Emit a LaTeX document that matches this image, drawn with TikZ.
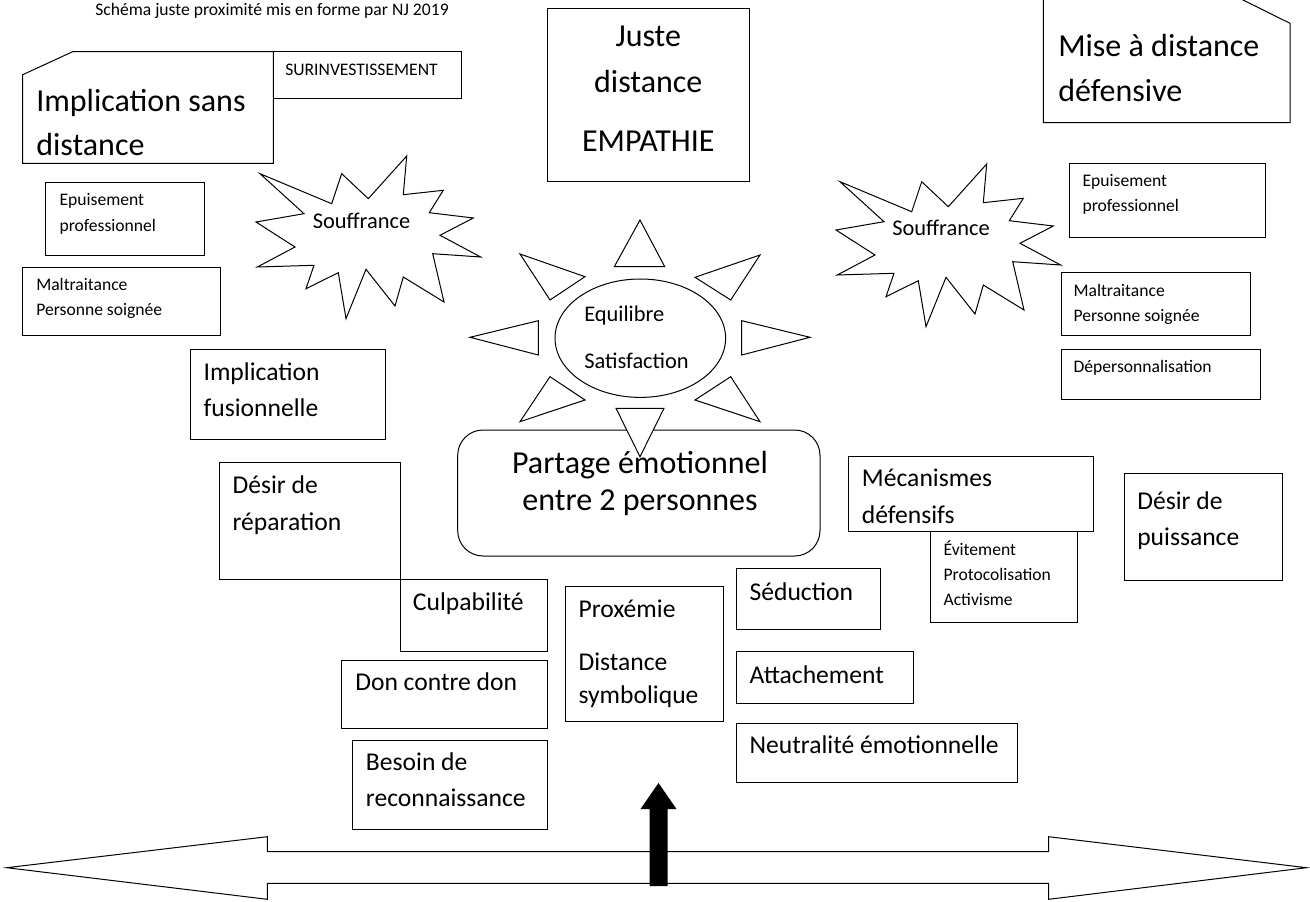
\documentclass[tikz,border=0pt]{standalone}
\usepackage{fontspec}
\setmainfont{Carlito}
\begin{document}
\begin{tikzpicture}[x=0.75pt,y=-0.75pt]
\tikzset{
  shp/.style={draw=black, line width=0.75pt, fill=white, line join=miter},
  tB/.style={font=\fontsize{24}{29}\selectfont, inner sep=0pt, anchor=base west},
  tBc/.style={font=\fontsize{24}{29}\selectfont, inner sep=0pt, anchor=base},
  tM/.style={font=\fontsize{19.2}{23}\selectfont, inner sep=0pt, anchor=base west},
  tS/.style={font=\fontsize{16.8}{20}\selectfont, inner sep=0pt, anchor=base west},
  tSc/.style={font=\fontsize{16.8}{20}\selectfont, inner sep=0pt, anchor=base},
  tX/.style={font=\fontsize{13.2}{16}\selectfont, inner sep=0pt, anchor=base west},
}
\useasboundingbox (0,0) rectangle (1310,902);
\fill[white] (0,0) rectangle (1310,902);

% title
\node[tX] (title) at (95,15.5) {Schéma juste proximité mis en forme par NJ 2019};

% Implication sans distance (snipped corner)
\draw[shp] (22.7,74.7) -- (72.7,51.7) -- (273.3,51.7) -- (273.3,163.3) -- (22.7,163.3) -- cycle;
\node[tB] (isd1) at (36,111.7) {Implication sans};
\node[tB] (isd2) at (36,156) {distance};
\draw[shp] (273.3,51.7) rectangle (461.7,99);
\node[tX] (surinv) at (285,76) {SURINVESTISSEMENT};

% Juste distance
\draw[shp] (547.3,8.3) rectangle (749.3,181.7);
\node[tBc] (jd1) at (648.3,46.7) {Juste};
\node[tBc] (jd2) at (648.3,92.7) {distance};
\node[tBc] (jd3) at (648.3,151.7) {EMPATHIE};

% Mise a distance defensive (snipped corner)
\draw[shp] (1043.3,-1.5) -- (1240,-1.5) -- (1290,23.3) -- (1290,122.7) -- (1043.3,122.7) -- cycle;
\node[tB] (mad1) at (1058,57) {Mise à distance};
\node[tB] (mad2) at (1058,102) {défensive};

% left column boxes
\draw[shp] (45.7,182.3) rectangle (204.3,255.7);
\node[tX] (ep1) at (59.3,206) {Epuisement};
\node[tX] (ep2) at (59.3,231.7) {professionnel};
\draw[shp] (22.7,267.7) rectangle (220.7,335);
\node[tX] (mal1) at (36,290.7) {Maltraitance};
\node[tX] (mal2) at (36,315.7) {Personne soignée};
\draw[shp] (190.7,349.3) rectangle (385.7,439.3);
\node[tM] (if1) at (203.3,380.7) {Implication};
\node[tM] (if2) at (203.3,416.7) {fusionnelle};

% starbursts
\def\burst{(840,181.7) -- (911.7,211.7) -- (921.7,181.7) -- (948.3,206.7) -- (986.7,164) -- (983.3,202.7) -- (1023.3,198.3) -- (1009.3,220.7) -- (1053.3,226) -- (1020,243.3) -- (1060.7,265) -- (1012.7,261.7) -- (1024,310) -- (983.3,285) -- (975,314) -- (946,277.3) -- (926,326.7) -- (918.3,280.7) -- (886,296.7) -- (894,273.3) -- (837.3,275) -- (875,255) -- (836,230) -- (884,221.7) -- cycle}
\draw[shp, shift={(-580,-8)}] \burst;
\draw[shp] \burst;
\node[tSc] (souf1) at (361.5,229) {Souffrance};
\node[tSc] (souf2) at (941,236) {Souffrance};

% right column boxes
\draw[shp] (1069,163.3) rectangle (1265,237.3);
\node[tX] (epr1) at (1082.3,186.7) {Epuisement};
\node[tX] (epr2) at (1082.3,211.7) {professionnel};
\draw[shp] (1061,272.7) rectangle (1250,335);
\node[tX] (malr1) at (1073.3,296.7) {Maltraitance};
\node[tX] (malr2) at (1073.3,321) {Personne soignée};
\draw[shp] (1061,349) rectangle (1260,399);
\node[tX] (dep) at (1073.3,372.3) {Dépersonnalisation};

% sun
\draw[shp] (640.3,338.2) ellipse [x radius=85.3, y radius=59.2];
\node[tS] (eq) at (584,321.7) {Equilibre};
\node[tS] (sat) at (584,368.3) {Satisfaction};
\draw[shp] (614.3,266.7) -- (664.7,266.7) -- (640,220) -- cycle;
\draw[shp] (695,277.3) -- (730.7,300) -- (760,255) -- cycle;
\draw[shp] (741.7,320.7) -- (741.7,355) -- (810,337.3) -- cycle;
\draw[shp] (695,400) -- (730.7,376.7) -- (760,421.7) -- cycle;
\draw[shp] (520,421.7) -- (550,376.7) -- (585,400) -- cycle;
\draw[shp] (538.3,320.7) -- (538.3,355) -- (470,337.3) -- cycle;
\draw[shp] (520,254) -- (550,300) -- (585,276.7) -- cycle;

% Partage box
\draw[shp, rounded corners=19pt] (457.7,430) rectangle (820,556);
\draw[shp] (616,408.3) -- (664,408.3) -- (640,456.7) -- cycle;
\node[tBc] (pa1) at (640,473.3) {Partage émotionnel};
\node[tBc] (pa2) at (640,510) {entre 2 personnes};

% lower left boxes
\draw[shp] (219,462.3) rectangle (400.7,579);
\node[tM] (dr1) at (232.3,493.3) {Désir de};
\node[tM] (dr2) at (232.3,530) {réparation};
\draw[shp] (400.7,579) rectangle (547.3,651);
\node[tM] (cul) at (412.7,610) {Culpabilité};
\draw[shp] (341.7,660) rectangle (547.3,728.7);
\node[tM] (don) at (355,690.7) {Don contre don};
\draw[shp] (352.7,740) rectangle (547.3,829.3);
\node[tM] (bes1) at (365.7,770) {Besoin de};
\node[tM] (bes2) at (365.7,806.7) {reconnaissance};

% middle boxes
\draw[shp] (565,586) rectangle (723.3,721);
\node[tM] (pro) at (578.3,617.3) {Proxémie};
\node[tM] (dis1) at (578.3,670) {Distance};
\node[tM] (dis2) at (578.3,703.3) {symbolique};
\draw[shp] (736,568.3) rectangle (880,629.3);
\node[tM] (sed) at (749.3,600) {Séduction};
\draw[shp] (736,651.7) rectangle (913.3,703.3);
\node[tM] (att) at (749.3,683.3) {Attachement};
\draw[shp] (736,723.3) rectangle (1017.3,782.7);
\node[tM] (neu) at (749.3,753.3) {Neutralité émotionnelle};

% right lower boxes
\draw[shp] (848.3,456.7) rectangle (1093,531);
\node[tM] (mec1) at (861.7,486) {Mécanismes};
\node[tM] (mec2) at (861.7,523.3) {défensifs};
\draw[shp] (930.7,531) rectangle (1077.3,622.3);
\node[tX] (evi) at (943.3,555) {Évitement};
\node[tX] (prot) at (943.3,580) {Protocolisation};
\node[tX] (act) at (943.3,605) {Activisme};
\draw[shp] (1124,473) rectangle (1282,580);
\node[tM] (dp1) at (1137,509) {Désir de};
\node[tM] (dp2) at (1137,545) {puissance};

% bottom double arrow
\draw[shp] (6.7,867.7) -- (267.3,836.7) -- (267.3,851.7) -- (1048.5,851.7) -- (1048.5,836.7) -- (1306.5,867.7) -- (1048.5,899.3) -- (1048.5,883.3) -- (267.3,883.3) -- (267.3,899.3) -- cycle;
% black arrow
\fill[black] (649.5,886) -- (649.5,809) -- (640.5,809) -- (658.5,783) -- (676.5,809) -- (667.5,809) -- (667.5,886) -- cycle;
\end{tikzpicture}
\end{document}
